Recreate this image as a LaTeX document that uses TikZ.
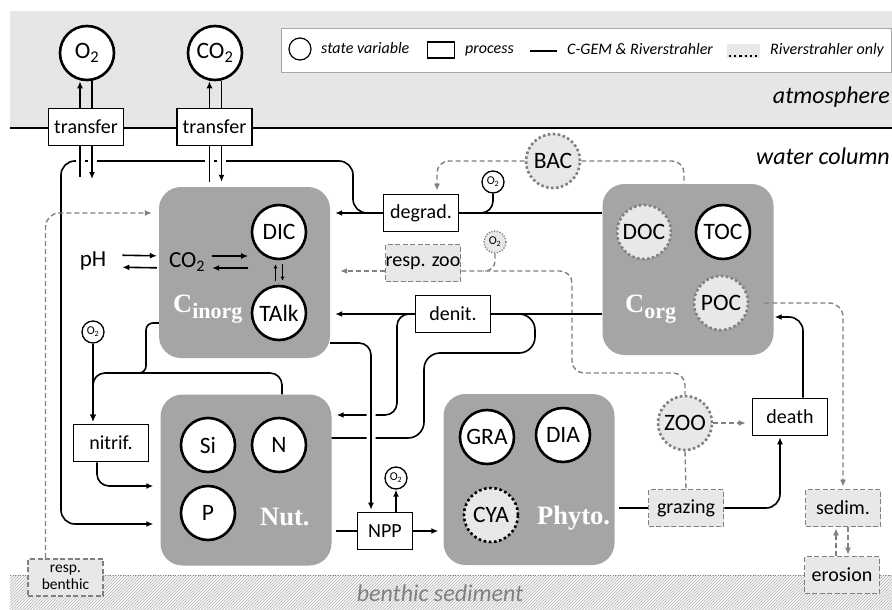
\documentclass[tikz,border=0pt]{standalone}
\usepackage{fontspec}
\setmainfont{Carlito}
\newfontfamily\poolfont{Liberation Serif}
\usepackage{tikz}
\usetikzlibrary{arrows.meta, patterns, positioning}
\definecolor{atmgray}{RGB}{230,230,230}
\definecolor{poolgray}{RGB}{166,164,164}
\definecolor{rivfill}{RGB}{232,232,232}
\definecolor{rivline}{RGB}{128,128,128}

\begin{document}
\begin{tikzpicture}[x=1pt, y=-1pt,
    line/.style={line width=1.6pt},
    flow/.style={line, -{Latex[length=7pt,width=6pt]}},
    smallflow/.style={line width=1.2pt, -{Latex[length=4pt,width=4pt]}, shorten <=4pt, shorten >=4pt},
    dline/.style={line width=1.4pt, rivline, dash pattern=on 5pt off 3pt},
    dflow/.style={dline, -{Latex[length=7pt,width=6pt]}},
    gap/.style={preaction={draw=white, line width=9pt, -, shorten >=9pt}},
    statevar/.style={circle, draw, line width=2.6pt, fill=white, minimum size=54pt, inner sep=0pt, font=\fontsize{23.5}{23.5}\selectfont},
    rivvar/.style={statevar, draw=rivline, fill=rivfill, dash pattern=on 2.6pt off 2.4pt},
    cyavar/.style={statevar, fill=rivfill, dash pattern=on 2.6pt off 2.6pt},
    oxy/.style={circle, draw, line width=1.3pt, fill=white, minimum size=22pt, inner sep=0pt, font=\fontsize{12}{12}\selectfont},
    oxyriv/.style={oxy, draw=rivline, fill=rivfill, dash pattern=on 1.3pt off 1.5pt},
    procbox/.style={draw, line width=1.6pt, fill=white, minimum width=75pt, minimum height=37pt, inner sep=0pt, font=\fontsize{20}{20}\selectfont},
    rivbox/.style={procbox, draw=rivline, fill=rivfill, dash pattern=on 5pt off 2.5pt},
    pool/.style={fill=poolgray, rounded corners=22pt, minimum width=171pt, minimum height=171pt, inner sep=0pt},
    poollbl/.style={text=white, inner sep=0pt, anchor=base west, font=\poolfont\bfseries\fontsize{26.5}{26.5}\selectfont},
    lbl/.style={inner sep=0pt, font=\fontsize{23}{23}\selectfont},
    legtxt/.style={inner sep=0pt, anchor=base west, font=\itshape\fontsize{16}{16}\selectfont},
    zonetxt/.style={inner sep=0pt, font=\itshape\fontsize{24}{24}\selectfont}]
    \useasboundingbox (0,0) rectangle (892,610);

    % Atmosphere and sediment
    \fill[atmgray] (10,11) rectangle (892,128);
    \fill[gray!8] (10,575) rectangle (892,610);
    \fill[pattern=north east lines, pattern color=gray!55] (10,575) rectangle (892,610);
    \draw[rivline, line width=1pt, dash pattern=on 1pt off 1.5pt] (10,575) -- (892,575);
    \draw[line width=2pt] (10,128) -- (892,128);
    \node[zonetxt, anchor=east] (atmlbl) at (890,97) {atmosphere};
    \node[zonetxt, anchor=east] (watlbl) at (890,156) {water column};
    \node[zonetxt, text=rivline, font=\itshape\fontsize{24}{24}\selectfont] (sedlbl) at (440,593) {benthic sediment};

    % Legend
    \node[draw=gray!70, line width=1pt, fill=white, minimum width=610pt, minimum height=44pt, anchor=north west] (legend) at (281,28) {};
    \node[circle, draw, line width=1.2pt, minimum size=22pt, inner sep=0pt] (legsv) at (300,49) {};
    \node[legtxt] (legsvtxt) at (321,54) {state variable};
    \node[draw, line width=1.2pt, minimum width=27pt, minimum height=16pt] (legproc) at (441,50) {};
    \node[legtxt] (legproctxt) at (465,54) {process};
    \draw[line width=2.6pt] (530,51) -- (557,51);
    \node[legtxt] (legcgem) at (567,55) {C-GEM \& Riverstrahler};
    \fill[rivfill] (727,44) rectangle (760,58);
    \draw[line width=2.2pt, dash pattern=on 2.2pt off 3pt] (729,56) -- (760,56);
    \node[legtxt] (legriv) at (770,55) {Riverstrahler only};

    % Pools
    \node[pool] (cinorg) at (244.5,272.5) {};
    \node[pool] (corg) at (688,269.5) {};
    \node[pool] (nut) at (246,480) {};
    \node[pool] (phyto) at (529,479.5) {};
    \node[poollbl] (cinorglbl) at (173,312) {C\raisebox{-6pt}{\fontsize{22}{22}\selectfont inorg}};
    \node[poollbl] (corglbl) at (625,312) {C\raisebox{-6pt}{\fontsize{22}{22}\selectfont org}};
    \node[poollbl] (nutlbl) at (260,525) {Nut.};
    \node[poollbl] (phytolbl) at (537,524) {Phyto.};

    % State variables
    \node[statevar] (o2atm) at (87,53) {O\textsubscript{2}};
    \node[statevar] (co2atm) at (215,53) {CO\textsubscript{2}};
    \node[statevar] (dic) at (279,232) {DIC};
    \node[statevar] (talk) at (279,313) {TAlk};
    \node[rivvar] (doc) at (644,232) {DOC};
    \node[statevar] (toc) at (723,232) {TOC};
    \node[rivvar] (poc) at (721,303) {POC};
    \node[statevar] (si) at (208,445) {Si};
    \node[statevar] (nN) at (279,445) {N};
    \node[statevar] (pP) at (208,513) {P};
    \node[statevar] (gra) at (487,437) {GRA};
    \node[statevar] (dia) at (563,435) {DIA};
    \node[cyavar] (cya) at (491,515) {CYA};
    \node[rivvar] (bac) at (553,161) {BAC};
    \node[rivvar] (zoo) at (685,423) {ZOO};
    \node[lbl] (ph) at (93,261) {pH};
    \node[lbl] (co2w) at (187,262) {CO\textsubscript{2}};

    % Oxygen tags
    \node[oxy] (o2deg) at (493,182) {O\textsubscript{2}};
    \node[oxyriv] (o2zoo) at (495,242) {O\textsubscript{2}};
    \node[oxy] (o2nit) at (93,332) {O\textsubscript{2}};
    \node[oxy] (o2npp) at (396,478) {O\textsubscript{2}};

    % Processes
    \node[procbox] (trO) at (86,127) {transfer};
    \node[procbox] (trC) at (214.5,127) {transfer};
    \node[procbox] (degrad) at (421,213) {degrad.};
    \node[rivbox] (respzoo) at (423,263) {resp. zoo};
    \node[procbox] (denit) at (453,314) {denit.};
    \node[procbox] (nitrif) at (111,443) {nitrif.};
    \node[procbox, minimum width=55pt] (npp) at (385,531) {NPP};
    \node[rivbox] (grazing) at (686,508) {grazing};
    \node[procbox] (death) at (790,417) {death};
    \node[rivbox] (sedim) at (843,508) {sedim.};
    \node[rivbox] (erosion) at (842,575) {erosion};
    \node[rivbox, align=center, font=\fontsize{15.5}{17}\selectfont] (respb) at (65.5,577.5) {resp.\\benthic};
    \coordinate (o2out) at (80,177);
    \coordinate (o2in) at (92,179);

    % Air-water exchange
    \draw[flow] ([xshift=-6pt]trO.north) -- ([xshift=-6pt]trO.north |- o2atm.south);
    \draw[line] ([xshift=6pt]trO.north) -- ([xshift=6pt]trO.north |- o2atm.south);
    \draw[flow] ([xshift=-5pt]trC.north) -- ([xshift=-5pt]trC.north |- co2atm.south);
    \draw[line] ([xshift=7pt]trC.north) -- ([xshift=7pt]trC.north |- co2atm.south);

    % Mineralisation to nutrients
    \draw[flow, rounded corners=14pt, shorten >=7pt] (degrad.west) -| (353,161) -| (61,524) -- (nut.west |- 0,524);
    \draw[line, gap] ([xshift=-6pt]trO.south) -- (o2out);
    \draw[flow, gap] ([xshift=6pt]trO.south) -- (o2in);
    \draw[line, gap, shorten >=5pt] ([xshift=-5pt]trC.south) -- ([xshift=-5pt]trC.south |- cinorg.north);
    \draw[flow, gap, shorten >=5pt] ([xshift=7pt]trC.south) -- ([xshift=7pt]trC.south |- cinorg.north);

    % Carbonate system
    \draw[flow, shorten <=16pt, shorten >=12pt] ([yshift=6pt]ph.east) -- ([yshift=6pt]co2w.west);
    \draw[flow, shorten <=12pt, shorten >=16pt] ([yshift=-6pt]co2w.west) -- ([yshift=-6pt]ph.east);
    \draw[flow, shorten <=7pt, shorten >=2.5pt] ([yshift=6pt]co2w.east) -- ([yshift=6pt]co2w.east -| dic.west);
    \draw[flow, shorten <=2.5pt, shorten >=7pt] ([yshift=-6pt]co2w.east -| dic.west) -- ([yshift=-6pt]co2w.east);
    \draw[smallflow] ([xshift=-3.5pt]talk.north) -- ([xshift=-3.5pt]dic.south);
    \draw[smallflow] ([xshift=3.5pt]dic.south) -- ([xshift=3.5pt]talk.north);

    % Degradation and bacteria
    \draw[flow, shorten >=5pt] (degrad.west) -- (cinorg.east |- degrad.west);
    \draw[line] (corg.west |- degrad.east) -- (degrad.east);
    \draw[line, rounded corners=12pt] (o2deg.south) |- (479,213);
    \draw[dflow, rounded corners=12pt, shorten >=3pt] (bac.west) -| ([xshift=16pt]degrad.north);
    \draw[dline, rounded corners=12pt] (bac.east) -| ([xshift=-4pt]corg.north);

    % Zooplankton respiration
    \draw[dflow, shorten >=10pt] ([yshift=-8pt]respzoo.west) -- (cinorg.east |- 0,271);
    \draw[dline, rounded corners=12pt] ([yshift=-8pt]respzoo.east) -| (572,373) -| (zoo.north);
    \draw[dline, rounded corners=10pt] (o2zoo.south) |- (483,271);

    % Denitrification
    \draw[line] (corg.west |- denit.east) -- (denit.east);
    \draw[flow, shorten >=5pt] (denit.west) -- (cinorg.east |- denit.west);
    \draw[flow, rounded corners=12pt, shorten >=5pt] (denit.west) -| (397,415) -- (nut.east |- 0,415);
    \draw[line, rounded corners=16pt] (nut.east |- 0,438) -| (424,353) -| (535,314) -- (denit.east);

    % Nitrification
    \draw[flow, rounded corners=12pt, shorten >=2pt] ([xshift=36pt]nut.north) |- (93,373) -- (o2nit.south |- nitrif.north);
    \draw[flow, shorten >=2pt] (o2nit.south) -- (o2nit.south |- nitrif.north);
    \draw[line, rounded corners=7pt] (cinorg.west |- 0,323) -| (146,373) -- (128,373);
    \draw[flow, rounded corners=12pt, shorten >=7pt] ([xshift=-14pt]nitrif.south) |- (nut.west |- 0,486);
    \draw[dflow, rounded corners=14pt, shorten >=7pt] ([xshift=-20pt]respb.north) |- (cinorg.west |- 0,213);

    % Primary production
    \draw[flow, gap, rounded corners=12pt, shorten >=2pt] (cinorg.east |- 0,343) -| ([xshift=-14pt]npp.north);
    \draw[line, shorten <=4pt] (nut.east |- npp.west) -- (npp.west);
    \draw[flow, shorten >=5pt] (npp.east) -- (phyto.west |- npp.east);
    \draw[flow] ([xshift=11pt]npp.north) -- (o2npp.south);

    % Grazing, mortality, sedimentation
    \draw[line, shorten <=4pt] (phyto.east |- grazing.west) -- (grazing.west);
    \draw[dline] (zoo.south) -- (grazing.north);
    \draw[dflow, shorten >=6pt] (zoo.east) -- (death.west |- zoo.east);
    \draw[flow, rounded corners=14pt, shorten >=1pt] (grazing.east) -| ([xshift=-10pt]death.south);
    \draw[flow, rounded corners=14pt, shorten >=1pt] ([xshift=13pt]death.north) |- (corg.east |- 0,317);
    \draw[dflow, rounded corners=14pt, shorten <=15pt, shorten >=2pt] (poc.east) -| (sedim.north);
    \draw[dflow, shorten >=1pt] ([xshift=-6pt]erosion.north) -- ([xshift=-6pt]erosion.north |- sedim.south);
    \draw[dflow, shorten >=1pt] ([xshift=5pt]sedim.south) -- ([xshift=5pt]sedim.south |- erosion.north);
\end{tikzpicture}
\end{document}
